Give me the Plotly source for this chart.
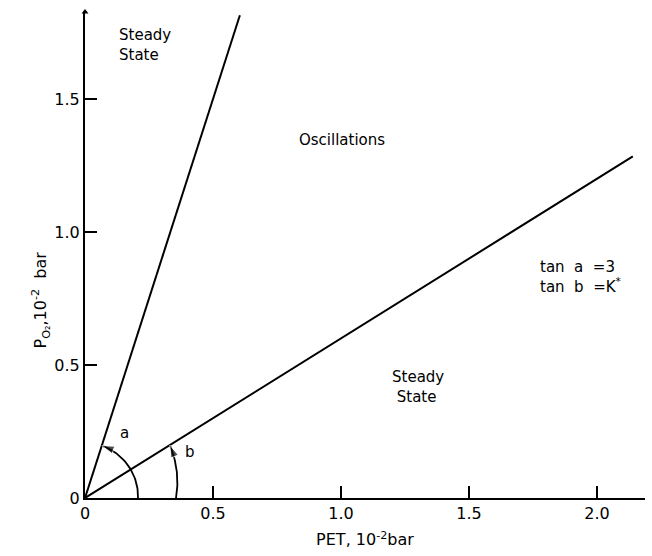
import numpy as np
import plotly.graph_objects as go

# Data: two boundary lines through the origin
slopes = [3.0, 0.6]          # tan a = 3, tan b = K*
line_end_x = [0.605, 2.14]
x_tick_vals = [0, 0.5, 1.0, 1.5, 2.0]
x_tick_text = ["0", "0.5", "1.0", "1.5", "2.0"]
y_tick_vals = [0, 0.5, 1.0, 1.5]
y_tick_text = ["0", "0.5", "1.0", "1.5"]

W, H = 652, 556
ML, MR, MT, MB = 85, 7, 12, 58
XMAX, YMAX = 2.1875, 1.827
pxx = (W - ML - MR) / XMAX
pxy = (H - MT - MB) / YMAX

FONT = "DejaVu Sans"
fig = go.Figure()

for s, xe in zip(slopes, line_end_x):
    fig.add_trace(go.Scatter(x=[0, xe], y=[0, s * xe], mode="lines",
                             line=dict(color="black", width=2),
                             cliponaxis=False, showlegend=False, hoverinfo="skip"))

# angle arcs (decoration) from x-axis to each line
def arc(slope, r0, r1):
    th_end = np.arctan(slope * pxy / pxx)
    th = np.linspace(0, th_end, 40)
    r = np.linspace(r0, r1, 40)
    return r * np.cos(th) / pxx, r * np.sin(th) / pxy

for s, (r0, r1) in zip(slopes, [(53, 55), (91, 100)]):
    ax_, ay_ = arc(s, r0, r1)
    sizes = [0] * (len(ax_) - 1) + [13]
    fig.add_trace(go.Scatter(x=ax_, y=ay_, mode="lines+markers",
                             line=dict(color="black", width=1.8),
                             marker=dict(symbol="arrow", size=sizes, angleref="previous",
                                         color="black"),
                             cliponaxis=False, showlegend=False, hoverinfo="skip"))

# y-axis top arrow
fig.add_trace(go.Scatter(x=[0], y=[YMAX], mode="markers",
                         marker=dict(symbol="triangle-up", size=6, color="black"),
                         cliponaxis=False, showlegend=False, hoverinfo="skip"))

tf = dict(family=FONT, size=15, color="black")
ann = [
    dict(x=0.125, y=1.703, text="Steady<br>State", xanchor="left", align="left"),
    dict(x=1.004, y=1.346, text="Oscillations", xanchor="center"),
    dict(x=1.30, y=0.417, text="Steady<br> State", xanchor="center", align="left"),
    dict(x=1.77, y=0.83, text="tan  a  =3<br>tan  b  =K<sup>*</sup>", xanchor="left", align="left"),
    dict(x=0.156, y=0.244, text="a"),
    dict(x=0.41, y=0.173, text="b"),
]
for a in ann:
    fig.add_annotation(showarrow=False, font=tf, xref="x", yref="y", **a)

fig.add_annotation(x=(27 - ML) / (W - ML - MR), y=(H - MB - 300) / (H - MT - MB),
                   xref="paper", yref="paper", textangle=-90, showarrow=False,
                   text="P<sub>O₂</sub>,10<sup>-2</sup>  bar", font=dict(family=FONT, size=16, color="black"))

axis_common = dict(showline=True, linecolor="black", linewidth=2, showgrid=False,
                   zeroline=False, ticks="inside", ticklen=12, tickwidth=1.5,
                   tickcolor="black", tickfont=dict(family=FONT, size=16, color="black"))

fig.update_layout(
    width=W, height=H, margin=dict(l=ML, r=MR, t=MT, b=MB),
    plot_bgcolor="white", paper_bgcolor="white",
    xaxis=dict(range=[0, XMAX], tickvals=x_tick_vals, ticktext=x_tick_text,
               title=dict(text="PET, 10<sup>-2</sup>bar", standoff=12,
                          font=dict(family=FONT, size=16, color="black")),
               **axis_common),
    yaxis=dict(range=[0, YMAX], tickvals=y_tick_vals, ticktext=y_tick_text, **axis_common),
)

fig.write_html("out.html")
